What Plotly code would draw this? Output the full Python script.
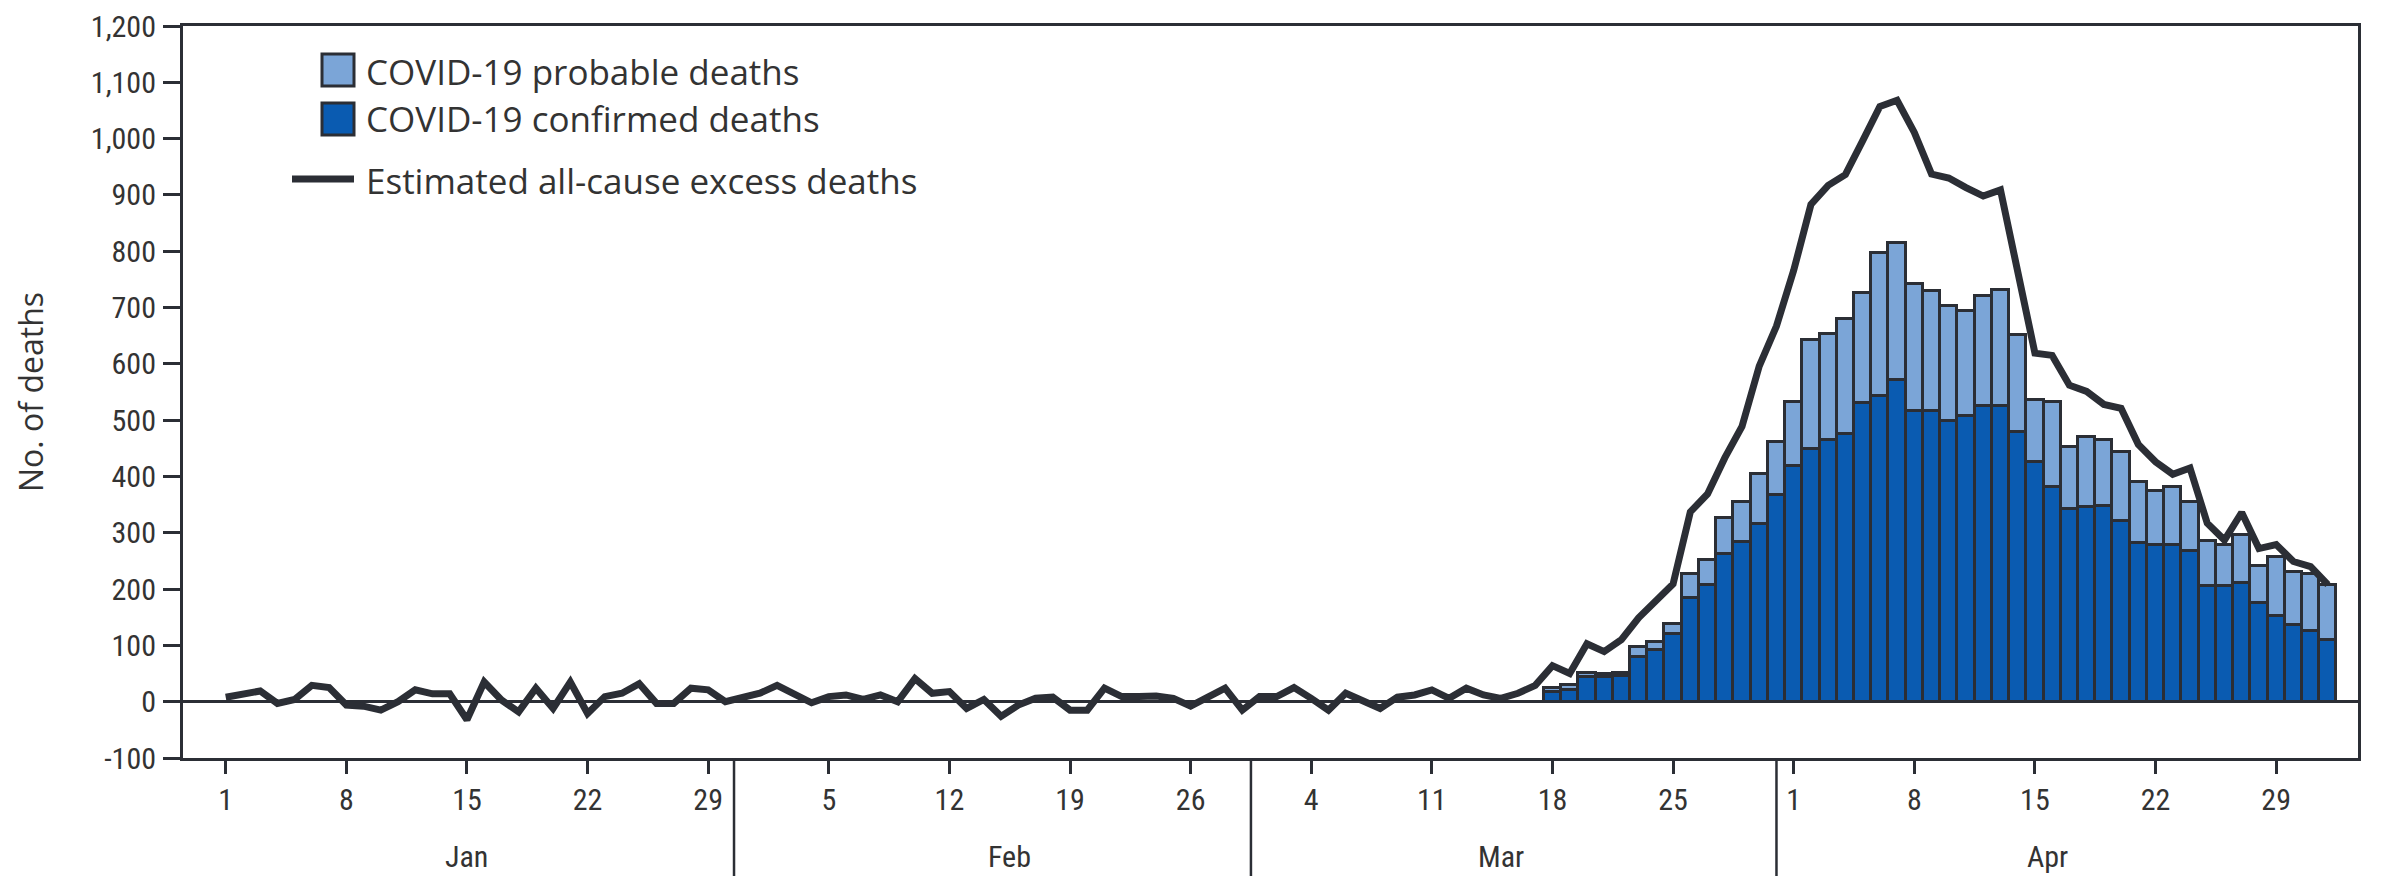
import plotly.graph_objects as go
import pandas as pd

# ---- data ----
bar_dates = pd.date_range("2020-03-18", "2020-05-02").strftime("%Y-%m-%d").tolist()
confirmed = [18, 21, 44, 43, 46, 79, 92, 121, 184, 207, 262, 284, 316, 367,
             419, 449, 464, 475, 530, 543, 572, 517, 517, 498, 507, 526, 526, 479,
             426, 381, 343, 346, 347, 321, 281, 279, 279, 268, 205, 205, 211, 175,
             152, 137, 125, 109]
probable = [7, 9, 7, 7, 5, 19, 14, 17, 43, 45, 64, 71, 88, 95,
            113, 194, 189, 204, 196, 253, 243, 224, 213, 204, 187, 195, 206, 172,
            110, 151, 110, 124, 118, 123, 110, 96, 102, 87, 80, 74, 85, 66,
            105, 93, 101, 99]

line_dates = pd.date_range("2020-01-01", "2020-05-02").strftime("%Y-%m-%d").tolist()
excess = [
    # Jan
    8, 15, 19, -3, 4, 29, 25, -6, -8, -15, 0, 21, 14, 14, -32, 35, 3, -18, 24, -12,
    35, -21, 9, 15, 32, -3, -3, 24, 21, 0, 9,
    # Feb
    15, 29, 12, -2, 9, 12, 4, 12, 0, 41, 15, 18, -12, 4, -26, -6, 6, 8, -15, -15,
    24, 9, 9, 10, 6, -8, 8, 24, -15,
    # Mar
    9, 9, 25, 6, -15, 15, 0, -12, 8, 12, 21, 6, 24, 12, 6, 15, 29, 64, 50, 103,
    89, 110, 149, 181, 209, 337, 369, 433, 489, 596, 667,
    # Apr
    766, 883, 917, 936, 996, 1057, 1068, 1011, 937, 930, 913, 898, 909, 770, 619,
    615, 562, 551, 528, 521, 457, 426, 404, 415, 317, 287, 336, 272, 279, 249,
    # May
    240, 208,
]

tick_dates = ["2020-01-01", "2020-01-08", "2020-01-15", "2020-01-22", "2020-01-29",
              "2020-02-05", "2020-02-12", "2020-02-19", "2020-02-26",
              "2020-03-04", "2020-03-11", "2020-03-18", "2020-03-25",
              "2020-04-01", "2020-04-08", "2020-04-15", "2020-04-22", "2020-04-29"]
tick_text = ["1", "8", "15", "22", "29", "5", "12", "19", "26",
             "4", "11", "18", "25", "1", "8", "15", "22", "29"]
months = ["Jan", "Feb", "Mar", "Apr"]
month_label_pos = ["2020-01-15", "2020-02-15 12:00", "2020-03-15", "2020-04-15 18:00"]
month_separators = ["2020-01-30 12:00", "2020-02-29 12:00", "2020-03-31 00:00"]

y_ticks = list(range(-100, 1201, 100))
y_tick_text = ["-100", "0", "100", "200", "300", "400", "500", "600", "700", "800",
               "900", "1,000", "1,100", "1,200"]

legend_labels = ["COVID-19 probable deaths", "COVID-19 confirmed deaths",
                 "Estimated all-cause excess deaths"]

# ---- style ----
FONT = "Open Sans, Lato, DejaVu Sans, sans-serif"
NARROW = "Liberation Sans Narrow, Roboto Condensed, DejaVu Sans Condensed, Arial Narrow, sans-serif"
INK = "#2b2e35"
TXT = "#333333"
DARK_BLUE = "#0a5bb1"
LIGHT_BLUE = "#7ba5d7"

fig = go.Figure()
fig.add_trace(go.Bar(x=bar_dates, y=confirmed, name=legend_labels[1],
                     marker=dict(color=DARK_BLUE, line=dict(color=INK, width=3))))
fig.add_trace(go.Bar(x=bar_dates, y=probable, name=legend_labels[0],
                     marker=dict(color=LIGHT_BLUE, line=dict(color=INK, width=3))))
fig.add_trace(go.Scatter(x=line_dates, y=excess, mode="lines", name=legend_labels[2],
                         line=dict(color=INK, width=7)))

W, H = 2392, 876
L, R, T, B = 175, 42, 18, 126

fig.update_layout(
    width=W, height=H,
    margin=dict(l=L, r=R, t=T, b=B, autoexpand=False),
    barmode="stack", bargap=0,
    showlegend=False,
    plot_bgcolor="white", paper_bgcolor="white",
    font=dict(family=FONT, size=28, color=TXT),
)
fig.update_xaxes(
    type="date",
    range=["2019-12-29 12:30", "2020-05-03 18:00"],
    tickmode="array", tickvals=tick_dates, ticktext=tick_text,
    ticks="outside", ticklen=13, tickwidth=3, tickcolor=INK,
    showline=True, linecolor=INK, linewidth=3, mirror=True,
    showgrid=False, zeroline=False, automargin=False,
    ticklabelstandoff=0,
    tickfont=dict(family=NARROW, size=30, color=TXT),
)
fig.update_yaxes(
    range=[-100, 1200],
    tickmode="array", tickvals=y_ticks, ticktext=y_tick_text,
    ticks="outside", ticklen=17, tickwidth=3, tickcolor=INK,
    showline=True, linecolor=INK, linewidth=3, mirror=True,
    showgrid=False, automargin=False,
    zeroline=True, zerolinecolor=INK, zerolinewidth=3,
    ticklabelstandoff=1, ticklabeloverflow="allow",
    tickfont=dict(family=NARROW, size=30, color=TXT),
    title=dict(text="No. of deaths", font=dict(family=FONT, size=32, color=TXT),
               standoff=38),
)

# month labels and separators
for m, pos in zip(months, month_label_pos):
    fig.add_annotation(x=pos, y=-0.1347, xref="x", yref="paper", text=m,
                       showarrow=False, yanchor="middle",
                       font=dict(family=NARROW, size=30, color=TXT))
for s in month_separators:
    fig.add_shape(type="line", xref="x", yref="paper", x0=s, x1=s, y0=0, y1=-0.17,
                  line=dict(color=INK, width=2.5))

# custom legend (paper coords from pixel positions)
def px(x):
    return (x - L) / (W - L - R)

def py(y):
    return (H - B - y) / (H - B - T)

fig.add_shape(type="rect", xref="paper", yref="paper",
              x0=px(314), x1=px(346), y0=py(78), y1=py(46),
              fillcolor=LIGHT_BLUE, line=dict(color=INK, width=3))
fig.add_shape(type="rect", xref="paper", yref="paper",
              x0=px(314), x1=px(346), y0=py(127), y1=py(95),
              fillcolor=DARK_BLUE, line=dict(color=INK, width=3))
fig.add_shape(type="line", xref="paper", yref="paper",
              x0=px(284), x1=px(346), y0=py(171), y1=py(171),
              line=dict(color=INK, width=7))
for txt, yy in zip(legend_labels, [63, 110, 172]):
    fig.add_annotation(x=px(356), y=py(yy), xref="paper", yref="paper", text=txt,
                       showarrow=False, xanchor="left", yanchor="middle",
                       font=dict(family=FONT, size=35, color=TXT))

fig.write_html("out.html")
